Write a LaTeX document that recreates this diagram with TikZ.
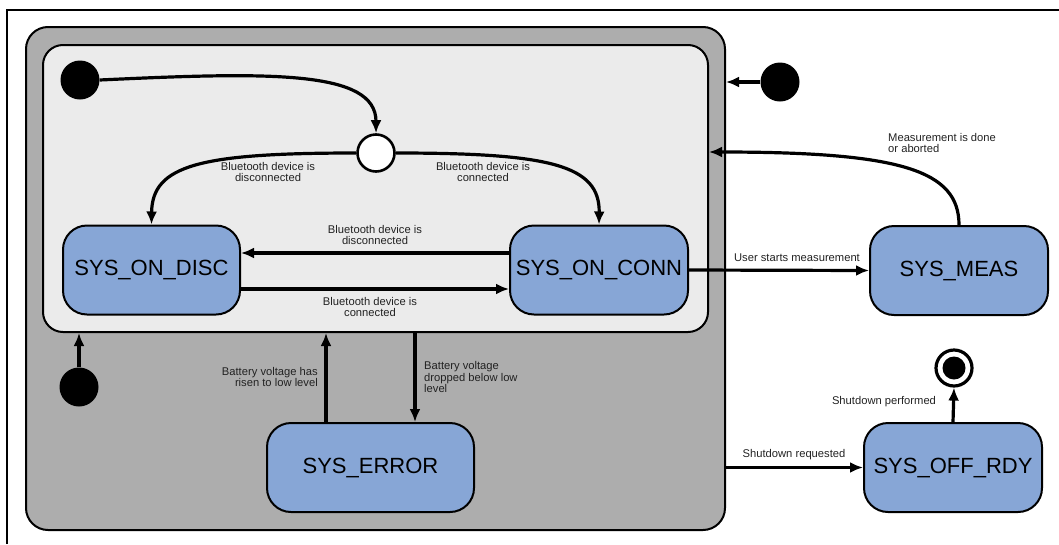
\documentclass[tikz,border=0pt]{standalone}
\usepackage{fontspec}
\setmainfont{Liberation Sans}
\usetikzlibrary{arrows.meta,calc}
\definecolor{stateblue}{RGB}{135,166,214}
\definecolor{outergray}{RGB}{173,173,173}
\definecolor{innergray}{RGB}{235,235,235}
\definecolor{labeltext}{RGB}{34,34,34}
\begin{document}
\begin{tikzpicture}[x=1pt,y=-1pt,
  statebox/.style={draw, line width=2pt, fill=stateblue, rounded corners=24pt,
    minimum width=178pt, minimum height=89pt, inner sep=0pt,
    font=\fontsize{22}{26}\selectfont},
  trans/.style={line width=3.2pt, -{Latex[length=13pt,width=11pt]}},
  lbl/.style={font=\fontsize{11.2}{11.8}\selectfont, text=labeltext, inner sep=0pt},
  initdot/.style={circle, fill=black, minimum size=39pt, inner sep=0pt},
  container/.style={draw, line width=2pt, inner sep=0pt}
]
\useasboundingbox (0,0) rectangle (1059,544);
% frame
\draw[line width=2.4pt] (7,544) -- (7,10) -- (1059,10);

% containers
\node[container, fill=outergray, rounded corners=22pt, minimum width=699pt, minimum height=503pt] (outer) at (375.5,278.5) {};
\node[container, fill=innergray, rounded corners=20pt, minimum width=665pt, minimum height=287pt] (inner) at (375.5,188.5) {};

% states
\node[statebox, minimum width=177pt] (disc) at (151.5,270) {SYS\_ON\_DISC};
\node[statebox] (conn) at (599,270) {SYS\_ON\_CONN};
\node[statebox] (meas) at (959,270.5) {SYS\_MEAS};
\node[statebox, minimum width=207pt] (err) at (370.5,467.5) {SYS\_ERROR};
\node[statebox] (off) at (953,467.5) {SYS\_OFF\_RDY};

% pseudo states
\node[initdot] (i1) at (80,80) {};
\node[initdot] (i2) at (780,82) {};
\node[initdot] (i3) at (79,387) {};
\node[circle, draw, line width=2.6pt, fill=white, minimum size=37pt, inner sep=0pt] (junc) at (376,153) {};
\node[circle, draw, line width=3.2pt, fill=white, minimum size=36pt, inner sep=0pt] (fin) at (954,368) {};
\node[circle, fill=black, minimum size=23pt, inner sep=0pt] (finc) at (fin) {};

\coordinate (measin) at (709,152);

% transitions
\draw[trans] (i1.east) .. controls (270,72) and (376,70) .. (junc.north);
\draw[trans] (junc.west) .. controls (200,153) and (152,165) .. (disc.north);
\draw[trans] (junc.east) .. controls (550,153) and (600,165) .. (conn.north);
\draw[trans] ([yshift=17pt]conn.west) -- ([yshift=17pt]disc.east);
\draw[trans] ([yshift=-19pt]disc.east) -- ([yshift=-19pt]conn.west);
\draw[trans] (conn.east) -- (meas.west);
\draw[trans] (meas.north) .. controls (959,170) and (900,152) .. (measin);
\draw[trans] (i2.west) -- (i2.west -| outer.east);
\draw[trans] (i3.north) -- (i3.north |- inner.south);
\draw[trans] ([xshift=-44.5pt]err.north) -- ([xshift=-44.5pt]err.north |- inner.south);
\draw[trans] ([xshift=44.5pt]err.north |- inner.south) -- ([xshift=44.5pt]err.north);
\draw[trans] (off.west -| outer.east) -- (off.west);
\draw[trans] (off.north) -- (fin.south);

% labels
\node[lbl, align=center] (l1) at (268,172) {Bluetooth device is\\disconnected};
\node[lbl, align=center] (l2) at (483,172) {Bluetooth device is\\connected};
\node[lbl, align=center] (l3) at (375,235) {Bluetooth device is\\disconnected};
\node[lbl, align=center] (l4) at (370,307) {Bluetooth device is\\connected};
\node[lbl] (l5) at (797,258) {User starts measurement};
\node[lbl, align=left, anchor=west] (l6) at (888,143) {Measurement is done\\or aborted};
\node[lbl, align=right, anchor=east] (l7) at (318,377) {Battery voltage has\\risen to low level};
\node[lbl, align=left, anchor=west] (l8) at (424,377) {Battery voltage\\dropped below low\\level};
\node[lbl] (l9) at (794,455) {Shutdown requested};
\node[lbl] (l10) at (884,402) {Shutdown performed};
\end{tikzpicture}
\end{document}
